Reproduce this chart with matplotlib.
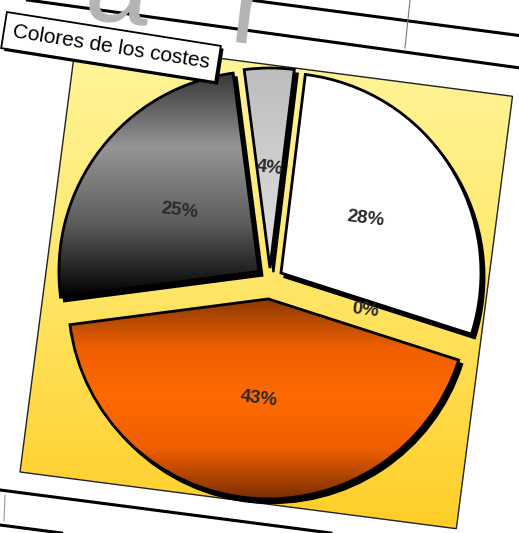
"""Pie chart of cost shares, drawn as a tilted Excel-style chart."""

import matplotlib
matplotlib.use("Agg")
import matplotlib.pyplot as plt
import matplotlib.patheffects as pe
import matplotlib.transforms as mtransforms
from matplotlib.colors import LinearSegmentedColormap
from matplotlib.patches import Rectangle, Wedge
import numpy as np

plt.rcParams["font.family"] = ["Liberation Sans", "DejaVu Sans"]

# --- data ---
TITLE = "Colores de los costes"
shares = [28, 0, 43, 25, 4]          # percent, clockwise from 12 o'clock

# gradient for each slice (top -> bottom of the slice)
slice_gradients = [
    ["#ffffff", "#ffffff"],
    None,
    ["#8e3a00", "#f06000", "#ff6a00", "#ee5e00", "#7a2e00"],
    ["#353535", "#959595", "#5e5e5e", "#000000"],
    ["#bdbdbd", "#cfcfcf", "#e2e2e2"],
]
PLOT_AREA = ["#fff7a4", "#ffe86c", "#ffcd26"]

W, H = 519, 533
TILT = -7.4

fig = plt.figure(figsize=(W / 100, H / 100), dpi=100)
fig.set_facecolor("white")
ax = fig.add_axes([0, 0, 1, 1])

# --- spreadsheet behind the chart ---
for x0, y0, slope in [(250, 533, -0.132), (100, 523, -0.138),
                      (0, 43, -0.13), (0, 8, -0.13)]:
    ax.axline((x0, y0), slope=slope, color="black", lw=2.2, zorder=0)
ax.plot([410, 405], [533, 485], color="#777777", lw=0.8, zorder=0)
ax.plot([5, 4], [38, 12], color="#999999", lw=0.8, zorder=0)
ax.text(118, 506, "a", fontsize=84, color="#b4b4b4", ha="center",
        va="baseline", rotation=-7, zorder=0)
ax.text(250, 486, "r", fontsize=84, color="#b4b4b4", ha="center",
        va="baseline", rotation=-7, zorder=0)

# --- plot area (tilted rectangle with yellow gradient) ---
area = Rectangle((20, 61), 440, 436, angle=TILT, facecolor="none",
                 edgecolor="#222222", lw=1.0, zorder=3)
ax.add_patch(area)
grad = np.linspace(0, 1, 256)[:, None]
bg = ax.imshow(grad, cmap=LinearSegmentedColormap.from_list("bg", PLOT_AREA),
               extent=(0, W, 0, H), aspect="auto", zorder=1, origin="upper")
bg.set_clip_path(area.get_path(), area.get_transform())

# --- pie ---
wedges, _, autotexts = ax.pie(
    shares, explode=[13, 0, 19, 14, 12], startangle=83, counterclock=False,
    center=(270, 253), radius=200, autopct="%.0f%%", pctdistance=0.5,
    wedgeprops=dict(facecolor="none", edgecolor="black", lw=2.0),
    textprops=dict(color="#2a2a2a", fontsize=13.5, fontweight="bold"),
)
ax.set_xlim(0, W)
ax.set_ylim(0, H)
ax.set_aspect("auto")
ax.axis("off")

shift = mtransforms.ScaledTranslation(2.5 / 72, -3 / 72, fig.dpi_scale_trans)
for wedge, colours in zip(wedges, slice_gradients):
    wedge.set_zorder(6)
    if colours is None:
        wedge.set_edgecolor("none")
        continue
    shadow = Wedge(wedge.center, wedge.r, wedge.theta1, wedge.theta2,
                   facecolor="black", edgecolor="black", lw=1.5,
                   transform=ax.transData + shift, zorder=4)
    ax.add_patch(shadow)
    x0, y0, x1, y1 = wedge.get_path().get_extents().extents
    img = ax.imshow(grad, cmap=LinearSegmentedColormap.from_list("s", colours),
                    extent=(x0, x1, y0, y1), aspect="auto", zorder=5,
                    origin="upper")
    img.set_clip_path(wedge)

for txt in autotexts:
    txt.set_rotation(-7)
    txt.set_zorder(8)

# --- title box ---
title = ax.text(111, 486, TITLE, fontsize=15, color="black", rotation=-9,
                ha="center", va="center", zorder=9,
                bbox=dict(boxstyle="square,pad=0.42", facecolor="white",
                          edgecolor="black", lw=1.3))
title.get_bbox_patch().set_path_effects(
    [pe.SimplePatchShadow(offset=(2, -2), shadow_rgbFace="black", alpha=1),
     pe.Normal()])

fig.savefig("out.png", dpi=100, facecolor="white")
